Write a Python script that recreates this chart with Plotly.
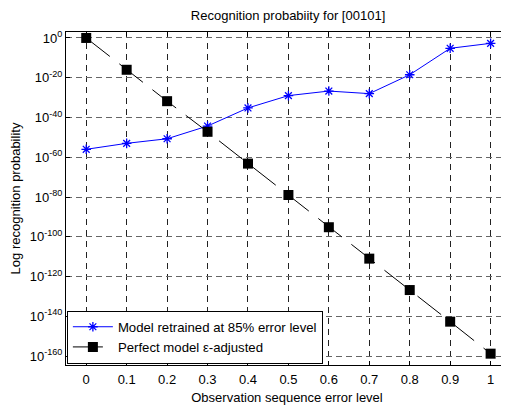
import plotly.graph_objects as go

error_levels = [0, 0.1, 0.2, 0.3, 0.4, 0.5, 0.6, 0.7, 0.8, 0.9, 1.0]
# log10 of recognition probability
retrained_log10 = [-56, -53, -50.7, -44.3, -35.2, -29, -26.7, -28, -18.5, -5.2, -2.7]
perfect_log10 = [0, -16, -31.8, -47.2, -63.2, -79, -95.2, -111, -126.8, -142.7, -158.8]
ytick_exps = [0, -20, -40, -60, -80, -100, -120, -140, -160]
xtick_labels = ["0", "0.1", "0.2", "0.3", "0.4", "0.5", "0.6", "0.7", "0.8", "0.9", "1"]

retrained = [10.0 ** v for v in retrained_log10]
perfect = [10.0 ** v for v in perfect_log10]

font = "Liberation Sans, Arial, sans-serif"

fig = go.Figure()
fig.add_trace(go.Scatter(
    x=error_levels, y=retrained, mode="lines+markers",
    name="Model retrained at 85% error level",
    line=dict(color="#0000ff", width=1),
    marker=dict(symbol="asterisk-open", size=8, color="#0000ff",
                line=dict(color="#0000ff", width=1.3)),
))
fig.add_trace(go.Scatter(
    x=error_levels, y=perfect, mode="lines+markers",
    name="Perfect model \u03b5-adjusted",
    line=dict(color="black", width=1, dash="30px,12px"),
    marker=dict(symbol="square", size=10, color="black"),
))

# page body has an 8px margin, so the figure is 8px smaller and margins shifted
fig.update_layout(
    width=501, height=400,
    margin=dict(l=58, r=1, t=24, b=43, autoexpand=False),
    paper_bgcolor="white", plot_bgcolor="white",
    font=dict(family=font, size=13, color="black"),
    title=dict(text="Recognition probabiity for [00101]", x=0.559, xanchor="center",
               y=1 - 7 / 400, yanchor="middle", font=dict(size=13)),
    showlegend=True,
    legend=dict(x=0.002, y=0.004, xanchor="left", yanchor="bottom",
                bgcolor="white", bordercolor="black", borderwidth=1,
                font=dict(size=13.2), tracegroupgap=0, itemwidth=40),
)
fig.update_xaxes(
    range=[-0.05, 1.043], tickvals=error_levels, ticktext=xtick_labels,
    automargin=False,
    showgrid=True, gridcolor="#222222", griddash="6px,5px", gridwidth=1,
    showline=True, linecolor="black", linewidth=1, mirror="ticks",
    ticks="inside", ticklen=4, tickcolor="black",
    zeroline=False, tickfont=dict(size=13), ticklabelstandoff=2,
    title=dict(text="Observation sequence error level", standoff=7, font=dict(size=13)),
)
fig.update_yaxes(
    type="log", range=[-164.5, 3],
    automargin=False,
    tickvals=[10.0 ** e for e in ytick_exps],
    ticktext=["10<sup>%d</sup>" % e for e in ytick_exps],
    showgrid=True, gridcolor="#666666", griddash="6px,4px", gridwidth=1,
    showline=True, linecolor="black", linewidth=1,
    ticks="inside", ticklen=4, tickcolor="black",
    zeroline=False, tickfont=dict(size=13),
    title=dict(text="Log recognition probability", standoff=9, font=dict(size=13)),
)

fig.write_html("out.html")
